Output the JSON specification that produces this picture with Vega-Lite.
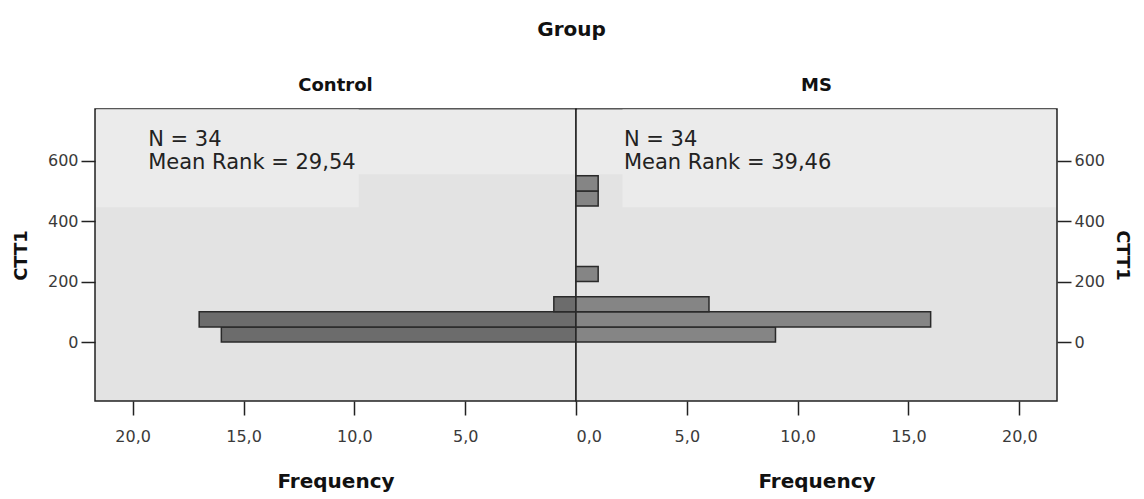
{
  "$schema": "https://vega.github.io/schema/vega-lite/v6.json",
  "background": "white",
  "padding": {"left": 11, "top": 20, "right": 6, "bottom": 0},
  "bounds": "flush",
  "title": {"text": "Group", "font": "DejaVu Sans", "fontSize": 20, "fontWeight": "bold", "color": "#111", "anchor": "middle", "offset": 36},
  "datasets": {
    "bins": [
      {"group": "Control", "lo": 0, "hi": 50, "count": 16},
      {"group": "Control", "lo": 50, "hi": 100, "count": 17},
      {"group": "Control", "lo": 100, "hi": 150, "count": 1},
      {"group": "MS", "lo": 0, "hi": 50, "count": 9},
      {"group": "MS", "lo": 50, "hi": 100, "count": 16},
      {"group": "MS", "lo": 100, "hi": 150, "count": 6},
      {"group": "MS", "lo": 200, "hi": 250, "count": 1},
      {"group": "MS", "lo": 450, "hi": 500, "count": 1},
      {"group": "MS", "lo": 500, "hi": 550, "count": 1}
    ]
  },
  "config": {
    "view": {"fill": "#e3e3e3", "stroke": "#222", "strokeWidth": 1.5},
    "axis": {
      "labelFont": "DejaVu Sans", "labelFontSize": 16, "labelColor": "#3a3a3a",
      "titleFont": "DejaVu Sans", "titleFontSize": 20, "titleFontWeight": "bold", "titleColor": "#111",
      "tickColor": "#222", "tickSize": 14, "tickWidth": 1.5, "domain": false, "grid": false
    },
    "title": {"font": "DejaVu Sans", "fontSize": 18, "fontWeight": "bold", "color": "#111"}
  },
  "spacing": 0,
  "hconcat": [
    {
      "width": 481,
      "height": 292,
      "title": {"text": "Control", "anchor": "middle", "offset": 14},
      "layer": [
        {
          "data": {"values": [{"k": 1}]},
          "mark": {"type": "rect", "fill": "#ebebeb"},
          "encoding": {
            "x": {"datum": 21.65, "type": "quantitative"}, "x2": {"datum": 0.05},
            "y": {"datum": 555, "type": "quantitative"}, "y2": {"datum": 769}
          }
        },
        {
          "data": {"values": [{"k": 1}]},
          "mark": {"type": "rect", "fill": "#ebebeb"},
          "encoding": {
            "x": {"datum": 21.65, "type": "quantitative"}, "x2": {"datum": 9.8},
            "y": {"datum": 446, "type": "quantitative"}, "y2": {"datum": 769}
          }
        },
        {
          "data": {"name": "bins"},
          "transform": [{"filter": "datum.group === 'Control'"}],
          "mark": {"type": "bar", "fill": "#6c6c6c", "stroke": "#2a2a2a", "strokeWidth": 1.5},
          "encoding": {
            "y": {"field": "lo", "type": "quantitative", "scale": {"domain": [-195, 771], "nice": false, "zero": false},
                  "axis": {"orient": "left", "title": "CTT1", "titleFontSize": 18, "values": [0, 200, 400, 600], "titlePadding": 17, "labelPadding": 3}},
            "y2": {"field": "hi"},
            "x": {"field": "count", "type": "quantitative", "scale": {"domain": [0, 21.7], "nice": false, "reverse": true},
                  "axis": {"title": "Frequency", "values": [5, 10, 15, 20], "labelExpr": "replace(format(datum.value, '.1f'), '.', ',')", "labelPadding": 13, "titlePadding": 27}},
            "x2": {"datum": 0}
          }
        },
        {
          "data": {"values": [{"k": 1}]},
          "mark": {"type": "text", "align": "left", "baseline": "top", "font": "DejaVu Sans", "fontSize": 21, "color": "#222", "lineHeight": 23},
          "encoding": {
            "x": {"datum": 19.3, "type": "quantitative"},
            "y": {"datum": 704, "type": "quantitative"},
            "text": {"value": ["N = 34", "Mean Rank = 29,54"]}
          }
        }
      ]
    },
    {
      "width": 481,
      "height": 292,
      "title": {"text": "MS", "anchor": "middle", "offset": 14},
      "layer": [
        {
          "data": {"values": [{"k": 1}]},
          "mark": {"type": "rect", "fill": "#ebebeb"},
          "encoding": {
            "x": {"datum": 0.05, "type": "quantitative"}, "x2": {"datum": 21.65},
            "y": {"datum": 555, "type": "quantitative"}, "y2": {"datum": 769}
          }
        },
        {
          "data": {"values": [{"k": 1}]},
          "mark": {"type": "rect", "fill": "#ebebeb"},
          "encoding": {
            "x": {"datum": 2.1, "type": "quantitative"}, "x2": {"datum": 21.65},
            "y": {"datum": 446, "type": "quantitative"}, "y2": {"datum": 769}
          }
        },
        {
          "data": {"name": "bins"},
          "transform": [{"filter": "datum.group === 'MS'"}],
          "mark": {"type": "bar", "fill": "#858585", "stroke": "#2a2a2a", "strokeWidth": 1.5},
          "encoding": {
            "y": {"field": "lo", "type": "quantitative", "scale": {"domain": [-195, 771], "nice": false, "zero": false},
                  "axis": {"orient": "right", "title": "CTT1", "titleFontSize": 18, "titleAngle": 90, "values": [0, 200, 400, 600], "titlePadding": 8, "labelPadding": 3}},
            "y2": {"field": "hi"},
            "x": {"field": "count", "type": "quantitative", "scale": {"domain": [0, 21.7], "nice": false},
                  "axis": {"title": "Frequency", "values": [0, 5, 10, 15, 20], "labelExpr": "replace(format(datum.value, '.1f'), '.', ',')", "labelPadding": 13, "titlePadding": 27}},
            "x2": {"datum": 0}
          }
        },
        {
          "data": {"values": [{"k": 1}]},
          "mark": {"type": "text", "align": "left", "baseline": "top", "font": "DejaVu Sans", "fontSize": 21, "color": "#222", "lineHeight": 23},
          "encoding": {
            "x": {"datum": 2.16, "type": "quantitative"},
            "y": {"datum": 704, "type": "quantitative"},
            "text": {"value": ["N = 34", "Mean Rank = 39,46"]}
          }
        }
      ]
    }
  ]
}
